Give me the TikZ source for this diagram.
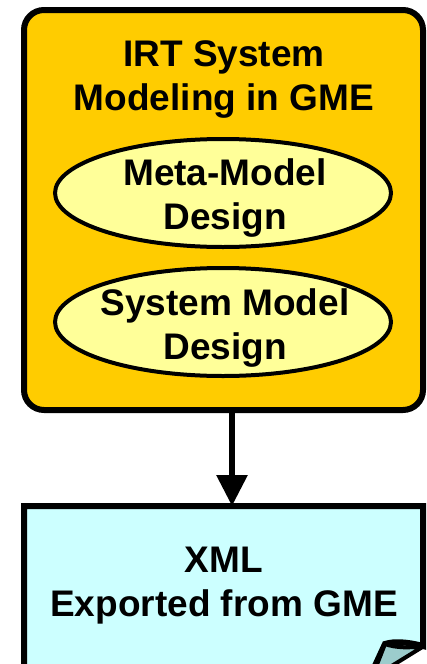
\documentclass[tikz,border=0pt]{standalone}
\usepackage{fontspec}
\setmainfont{Liberation Sans}
\usepackage{tikz}
\usetikzlibrary{arrows.meta}
\usetikzlibrary{shapes.geometric}
\definecolor{gmegold}{HTML}{FFCC00}
\definecolor{designyellow}{HTML}{FFFF99}
\definecolor{xmlcyan}{HTML}{CCFFFF}
\definecolor{foldcyan}{HTML}{9CCCCC}
\tikzset{
  bigtext/.style={align=center, font=\fontsize{37}{44}\selectfont\bfseries, inner sep=0pt},
  sysbox/.style={draw, line width=6pt, fill=gmegold, rounded corners=20pt,
    minimum width=399pt, minimum height=400pt, inner sep=0pt},
  designell/.style={ellipse, draw, line width=4pt, fill=designyellow,
    minimum width=336pt, minimum height=108pt, inner sep=0pt},
}

\begin{document}
\begin{tikzpicture}[x=1pt,y=-1pt]
\useasboundingbox (0,0) rectangle (426,664);
% modeling box
\node[sysbox] (sys) at (223.5,210) {};
\node[bigtext] (systitle) at (224,80) {IRT System\\Modeling in GME};
% design steps
\node[designell] (meta) at (223,193) {};
\node[bigtext] (metatext) at (225,198) {Meta-Model\\Design};
\node[designell] (model) at (223,322) {};
\node[bigtext] (modeltext) at (225,328) {System Model\\Design};
% exported file
\coordinate (cardtop) at (232,506);
\draw[line width=6pt, fill=xmlcyan, line join=miter]
  (24,506) -- (423,506) -- (423,646)
  .. controls (408,642) and (394,641) .. (385,644)
  -- (373,670) -- (24,670) -- cycle;
\draw[line width=4pt, fill=foldcyan, line join=round]
  (385,644) .. controls (396,648) and (410,648) .. (424,646)
  -- (390,667) -- (376,667) -- cycle;
\node[bigtext] (xmltext) at (224,586) {XML\\Exported from GME};
% export arrow
\draw[line width=6pt, -{Triangle[width=30pt,length=31pt]}] (sys.south -| cardtop) -- (cardtop);
\end{tikzpicture}
\end{document}
